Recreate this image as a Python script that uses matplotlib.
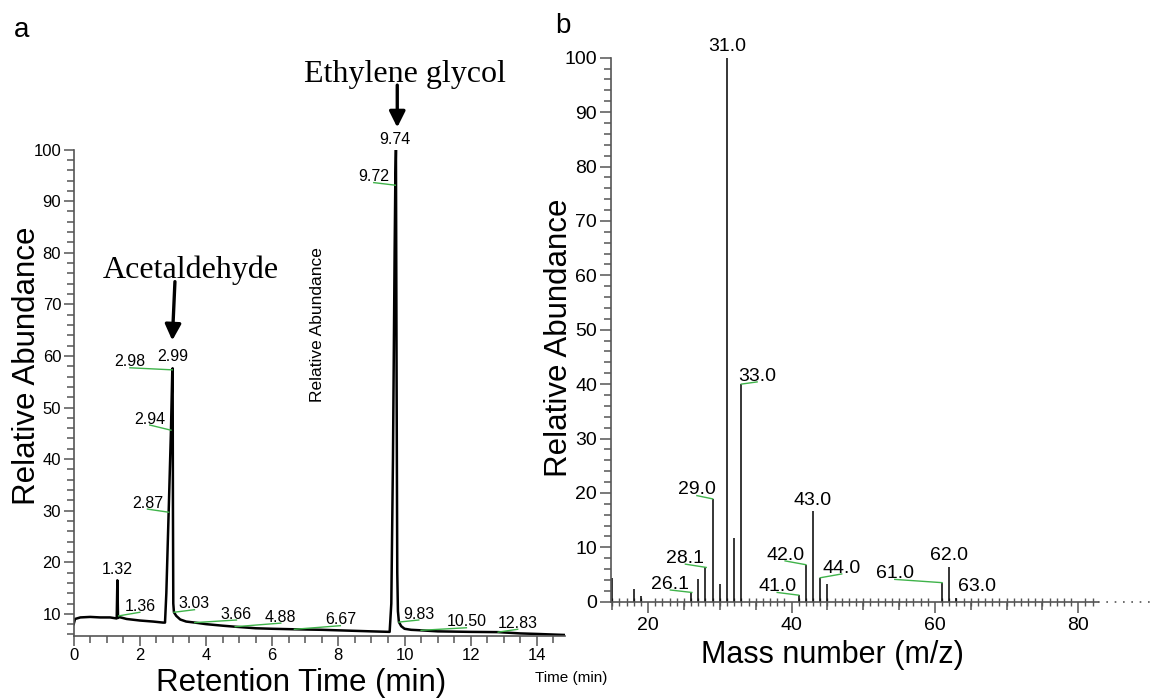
import matplotlib
matplotlib.use('Agg')
import matplotlib.pyplot as plt
import numpy as np
from matplotlib.ticker import MultipleLocator, FixedLocator, NullFormatter

plt.rcParams['font.family'] = ['Liberation Sans', 'DejaVu Sans']

# ---- panel a : chromatogram ----
rt = [0.00, 0.04, 0.20, 0.50, 0.80, 1.10, 1.30, 1.32, 1.34, 1.36, 1.60, 2.00, 2.40, 2.70,
      2.76, 2.80, 2.87, 2.94, 2.98, 2.99, 3.00, 3.01, 3.03, 3.10, 3.22, 3.40, 3.66, 4.00,
      4.50, 4.88, 5.50, 6.00, 6.67, 7.50, 8.00, 8.50, 9.00, 9.55, 9.60, 9.65, 9.70, 9.72,
      9.74, 9.76, 9.78, 9.80, 9.83, 9.90, 10.00, 10.20, 10.50, 11.00, 12.00, 12.83, 13.50,
      14.00, 14.85]
abund = [8.0, 9.0, 9.3, 9.4, 9.3, 9.3, 9.1, 16.5, 9.2, 9.4, 9.0, 8.7, 8.5, 8.3,
         8.3, 14.0, 29.7, 45.6, 57.3, 57.6, 30.0, 12.0, 10.3, 9.6, 8.9, 8.5, 8.3, 8.0,
         7.7, 7.5, 7.2, 7.1, 7.0, 6.9, 6.8, 6.7, 6.6, 6.5, 12.0, 40.0, 80.0, 93.1,
         100.0, 55.0, 18.0, 10.5, 8.4, 7.6, 7.1, 6.9, 6.8, 6.6, 6.5, 6.45, 6.2,
         6.1, 5.9]

a_labels = ["1.32", "1.36", "2.87", "2.94", "2.98", "2.99", "3.03", "3.66", "4.88",
            "6.67", "9.72", "9.74", "9.83", "10.50", "12.83"]
a_peak_t = [1.32, 1.36, 2.87, 2.94, 2.98, 2.99, 3.03, 3.66, 4.88, 6.67, 9.72, 9.74, 9.83, 10.50, 12.83]
a_peak_v = [16.5, 9.6, 29.7, 45.6, 57.3, 57.6, 10.3, 8.3, 7.5, 7.0, 93.1, 100.0, 8.4, 6.8, 6.45]
# where each label text sits (centre x, baseline y)
a_lab_x = [1.32, 2.00, 2.23, 2.30, 1.70, 2.98, 3.65, 4.92, 6.26, 8.06, 9.07, 9.71, 10.43, 11.87, 13.42]
a_lab_y = [17.4, 10.3, 30.3, 46.6, 57.7, 58.7, 10.8, 8.8, 8.2, 7.7, 93.6, 100.9, 8.8, 7.3, 7.0]
a_leader = [False, True, True, True, True, False, True, True, True, True, True, False, True, True, True]

# ---- panel b : mass spectrum ----
mz = [15, 18, 19, 26, 27, 28, 29, 30, 31, 32, 33, 41, 42, 43, 44, 45, 61, 62, 63]
intensity = [4.4, 2.3, 1.1, 1.7, 4.2, 6.3, 18.9, 3.2, 100.0, 11.8, 40.0, 1.2, 6.8, 16.6, 4.4, 3.2, 3.5, 6.4, 0.7]

b_labels = ["26.1", "28.1", "29.0", "31.0", "33.0", "41.0", "42.0", "43.0", "44.0", "61.0", "62.0", "63.0"]
b_peak_x = [26.1, 28.1, 29.0, 31.0, 33.0, 41.0, 42.0, 43.0, 44.0, 61.0, 62.0, 63.0]
b_peak_v = [1.7, 6.3, 18.9, 100.0, 40.0, 1.2, 6.8, 16.6, 4.4, 3.5, 6.4, 0.7]
b_lab_x = [23.1, 25.2, 26.8, 31.0, 35.2, 38.0, 39.1, 42.9, 47.0, 54.4, 62.0, 65.9]
b_lab_y = [2.15, 6.9, 19.5, 101.0, 40.4, 1.7, 7.5, 17.6, 5.1, 4.1, 7.5, 1.65]
b_leader = [True, True, True, False, True, True, True, False, True, True, False, False]

green = '#3fb34a'
axcol = '#555555'
W, H = 1150, 699

fig = plt.figure(figsize=(11.5, 6.99), dpi=100)
ax1 = fig.add_axes([73.7 / W, 1 - 636 / H, (565 - 73.7) / W, (636 - 149.6) / H])
ax2 = fig.add_axes([611 / W, 1 - 601.7 / H, (1150 - 611) / W, (601.7 - 57.7) / H])

# ---------- panel a ----------
ax1.plot(rt, abund, color='k', lw=1.8, solid_joinstyle='round')
for txt, px_, py_, lx, ly, ld in zip(a_labels, a_peak_t, a_peak_v, a_lab_x, a_lab_y, a_leader):
    if ld:
        ax1.plot([px_, lx], [py_, ly], color=green, lw=1.0, clip_on=False)
    ax1.annotate(txt, (lx, ly), xytext=(0, 1), textcoords='offset points',
                 ha='center', va='baseline', fontsize=11.5, annotation_clip=False)

ax1.set_xlim(0, 14.85)
ax1.set_ylim(5.7, 100)
for s in ['top', 'right']:
    ax1.spines[s].set_visible(False)
for s in ['left', 'bottom']:
    ax1.spines[s].set_color(axcol)
    ax1.spines[s].set_linewidth(1.2)
ax1.xaxis.set_major_locator(MultipleLocator(2))
ax1.xaxis.set_minor_locator(MultipleLocator(0.5))
ax1.yaxis.set_major_locator(FixedLocator(range(10, 101, 10)))
ax1.yaxis.set_minor_locator(MultipleLocator(2))
ax1.tick_params(which='major', length=7, width=1.1, color=axcol, labelsize=12, pad=2)
ax1.tick_params(which='minor', length=5, width=1.1, color=axcol)

ax1.annotate('', xy=(2.98, 63.0), xytext=(3.06, 74.4),
             arrowprops=dict(arrowstyle='-|>', color='k', lw=2.4, mutation_scale=24,
                             shrinkA=0, shrinkB=0), annotation_clip=False)
ax1.annotate('', xy=(9.78, 104.3), xytext=(9.78, 112.5),
             arrowprops=dict(arrowstyle='-|>', color='k', lw=2.4, mutation_scale=24,
                             shrinkA=0, shrinkB=0), annotation_clip=False)
ax1.text(3.54, 76.6, 'Acetaldehyde', family='Liberation Serif', fontsize=23,
         ha='center', va='center', clip_on=False)
ax1.text(10.01, 114.5, 'Ethylene glycol', family='Liberation Serif', fontsize=23,
         ha='center', va='center', clip_on=False)

# ---------- panel b ----------
ax2.vlines(mz, 0, intensity, color='k', lw=1.1)
for txt, px_, py_, lx, ly, ld in zip(b_labels, b_peak_x, b_peak_v, b_lab_x, b_lab_y, b_leader):
    if ld:
        ax2.plot([px_, lx], [py_, ly], color=green, lw=1.0, clip_on=False)
    ax2.annotate(txt, (lx, ly), xytext=(0, 1), textcoords='offset points',
                 ha='center', va='baseline', fontsize=14, annotation_clip=False)

ax2.set_xlim(14.82, 90.0)
ax2.set_ylim(0, 100)
for s in ['top', 'right']:
    ax2.spines[s].set_visible(False)
for s in ['left', 'bottom']:
    ax2.spines[s].set_color(axcol)
    ax2.spines[s].set_linewidth(1.2)
ax2.spines['bottom'].set_bounds(14.82, 82.7)
ax2.plot([82.7, 90.0], [0, 0], ls=(0, (1, 4)), color=axcol, lw=1.2, clip_on=False)
ax2.xaxis.set_major_locator(FixedLocator([20, 40, 60, 80]))
ax2.xaxis.set_minor_locator(FixedLocator(np.arange(15, 83)))
ax2.yaxis.set_major_locator(MultipleLocator(10))
ax2.yaxis.set_minor_locator(MultipleLocator(2))
ax2.tick_params(axis='x', which='major', length=8, width=1.1, color=axcol, labelsize=14, pad=3)
ax2.tick_params(axis='x', which='minor', length=6, width=1.0, color=axcol, direction='inout')
ax2.tick_params(axis='y', which='major', length=8, width=1.1, color=axcol, labelsize=14, pad=2)
ax2.tick_params(axis='y', which='minor', length=5, width=1.1, color=axcol)
sec = ax2.secondary_xaxis('bottom')
sec.spines['bottom'].set_visible(False)
sec.xaxis.set_major_locator(FixedLocator([15, 25, 30, 35, 45, 50, 55, 65, 70, 75]))
sec.xaxis.set_major_formatter(NullFormatter())
sec.tick_params(axis='x', length=6, width=1.1, color=axcol)

# ---------- axis titles & panel letters ----------
fig.text(27 / W, 1 - 366 / H, 'Relative Abundance', rotation=90, fontsize=22.5, ha='center', va='center')
fig.text(301 / W, 1 - 683 / H, 'Retention Time (min)', fontsize=22.5, ha='center', va='center')
fig.text(559 / W, 1 - 338 / H, 'Relative Abundance', rotation=90, fontsize=22.5, ha='center', va='center')
fig.text(832 / W, 1 - 655 / H, 'Mass number (m/z)', fontsize=22, ha='center', va='center')
fig.text(317 / W, 1 - 325 / H, 'Relative Abundance', rotation=90, fontsize=12.5, ha='center', va='center')
fig.text(571.5 / W, 1 - 678 / H, 'Time (min)', fontsize=11, ha='center', va='center')
fig.text(22 / W, 1 - 37 / H, 'a', fontsize=20, ha='center', va='baseline')
fig.text(555 / W, 1 - 33 / H, 'b', fontsize=20, ha='left', va='baseline')

fig.savefig('out.png', dpi=100)
